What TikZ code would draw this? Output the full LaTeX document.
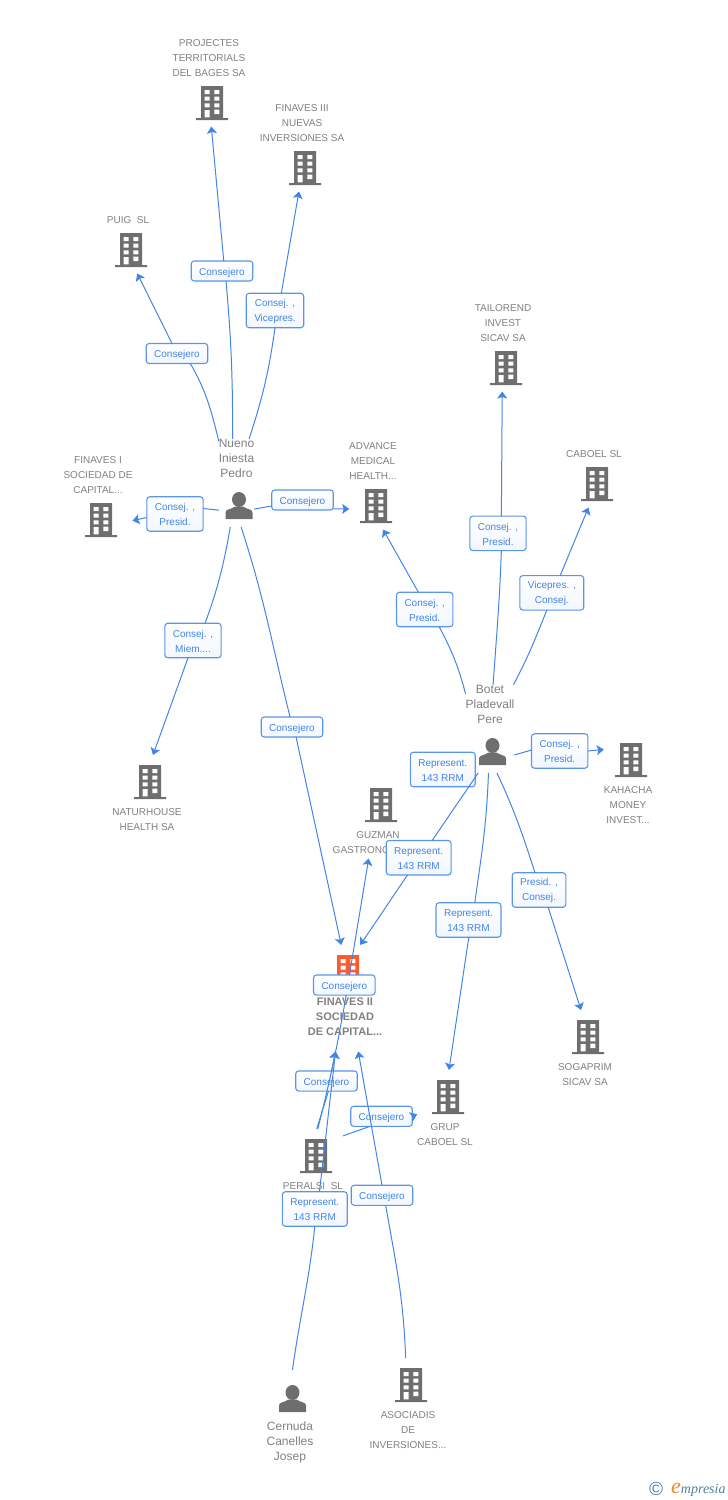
\documentclass[tikz,border=0pt]{standalone}
\usepackage{fontspec}
\setmainfont{Liberation Sans}
\newfontfamily\logofont{Liberation Serif}
\usetikzlibrary{arrows.meta,calc}

\definecolor{labelgray}{HTML}{808080}
\definecolor{icongray}{HTML}{6E6E6E}
\definecolor{iconorange}{HTML}{FF5A2C}
\definecolor{linkblue}{HTML}{4285E6}
\definecolor{boxblue}{HTML}{5A96E8}
\definecolor{logoblue}{HTML}{4F7F9C}
\definecolor{logoorange}{HTML}{F08A24}

\newcommand{\uproom}{\rule{0pt}{60.5pt}}
\newcommand{\dnroom}{\rule[-50pt]{0pt}{0pt}}
\newcommand{\boxroom}{\rule{0pt}{11pt}}
\newcommand{\boxroomb}{\rule{0pt}{9pt}}

\newcommand{\bldgicon}[2]{
  \begin{scope}[shift={($#1$)}]
    \fill[#2] (-11,-17) rectangle (11,15) (-16,15) rectangle (16,17);
    \foreach \wy in {-13,-6.4,0.3}
      \fill[white] (-7.3,\wy) rectangle +(5,4) (2.3,\wy) rectangle +(5,4);
    \fill[white] (-7.3,7) rectangle (-2.3,14.3) (2.3,6.7) rectangle (7.3,11);
  \end{scope}
}
\newcommand{\personicon}[1]{
  \begin{scope}[shift={($#1$)}]
    \fill[icongray] (0,-6) ellipse (7 and 7.5);
    \fill[icongray] (-13.5,13.5) -- (-13.5,7) .. controls (-13.5,3.5) and (-8,4) .. (-4,1)
      -- (4,1) .. controls (8,4) and (13.5,3.5) .. (13.5,7) -- (13.5,13.5) -- cycle;
  \end{scope}
}

\tikzset{
  entity/.style={inner sep=0pt,outer sep=0pt,align=center,text=labelgray,
    font=\fontsize{10}{15}\selectfont},
  bldgup/.style={entity,anchor=south},
  bldgdn/.style={entity,anchor=north},
  rootdn/.style={entity,anchor=north,font=\fontsize{11}{15}\selectfont\bfseries},
  personup/.style={entity,anchor=south,font=\fontsize{12}{15}\selectfont},
  persondn/.style={entity,anchor=north,font=\fontsize{12}{15}\selectfont},
  linkbox/.style={draw=boxblue,line width=1.1pt,rounded corners=3pt,top color=white,
    bottom color=boxblue!8,text=linkblue,align=center,inner xsep=8pt,inner ysep=3.5pt,
    outer sep=0pt,minimum height=20pt,font=\fontsize{10}{15}\selectfont},
  linkboxb/.style={linkbox,minimum height=34.5pt},
  link/.style={draw=linkblue,line width=1pt},
  linkto/.style={link,-{Stealth[length=7pt,width=10pt,inset=1.5pt]}}
}

\begin{document}
\begin{tikzpicture}[x=1pt,y=-1pt]
\useasboundingbox (0,0) rectangle (728,1500);

% companies
\node[bldgup] (projectes) at (209,126.5) {PROJECTES\\TERRITORIALS\\DEL BAGES SA\dnroom};
\node[bldgup] (finavesiii) at (302,191.5) {FINAVES III\\NUEVAS\\INVERSIONES SA\dnroom};
\node[bldgup] (puig) at (128,273.5) {PUIG\ \ SL\dnroom};
\node[bldgup] (tailorend) at (503,391.5) {TAILOREND\\INVEST\\SICAV SA\dnroom};
\node[bldgup] (caboel) at (594,507.5) {CABOEL SL\dnroom};
\node[bldgup] (advance) at (373,529.5) {ADVANCE\\MEDICAL\\HEALTH...\dnroom};
\node[bldgup] (finavesi) at (98,543.5) {FINAVES I\\SOCIEDAD DE\\CAPITAL...\dnroom};
\node[bldgdn] (naturhouse) at (147,755) {\uproom NATURHOUSE\\HEALTH SA};
\node[bldgdn] (guzman) at (378,778) {\uproom GUZMAN\\GASTRONOMICA...\rule[-5pt]{0pt}{0pt}};
\node[bldgdn] (kahacha) at (628,733) {\uproom KAHACHA\\MONEY\\INVEST...};
\node[bldgdn] (sogaprim) at (585,1010) {\uproom SOGAPRIM\\SICAV SA};
\node[bldgdn] (grup) at (445,1070) {\uproom GRUP\\CABOEL SL};
\node[bldgdn] (peralsi) at (313,1129) {\uproom PERALSI\ \ SL};
\node[bldgdn] (asociadis) at (408,1358) {\uproom ASOCIADIS\\DE\\INVERSIONES...};
\node[rootdn] (finavesii) at (345,945) {\uproom FINAVES II\\SOCIEDAD\\DE CAPITAL...\rule[-16pt]{0pt}{0pt}};

% people
\node[personup] (nueno) at (236.5,527) {Nueno\\Iniesta\\Pedro\dnroom};
\node[personup] (botet) at (490,773) {Botet\\Pladevall\\Pere\dnroom};
\node[persondn] (cernuda) at (290,1370) {\uproom Cernuda\\Canelles\\Josep};

% icons
\foreach \nm in {projectes,finavesiii,puig,tailorend,caboel,advance,finavesi}
  \bldgicon{(\nm.south)+(3,-23.5)}{icongray};
\foreach \nm in {naturhouse,guzman,kahacha,sogaprim,grup,peralsi,asociadis}
  \bldgicon{(\nm.north)+(3,27)}{icongray};
\bldgicon{(finavesii.north)+(3,27)}{iconorange};
\foreach \nm in {nueno,botet}
  \personicon{(\nm.south)+(2.5,-21.5)};
\personicon{(cernuda.north)+(2.5,28.5)};

\node[linkbox] (boxpuig) at (177,353.5) {\boxroom Consejero};
\draw[link] (nueno.113) to [out=104,in=-60] (boxpuig.-37);
\draw[linkto] (boxpuig) -- (puig.-72);

\node[linkbox] (boxprojectes) at (222,271) {\boxroom Consejero};
\draw[link] (nueno.95.5) to [out=90,in=-85] (boxprojectes.-68);
\draw[linkto] (boxprojectes.80) -- (projectes.-87.5);

\node[linkboxb] (boxfinavesiii) at (275,310.5) {\boxroomb Consej. ,\\Vicepres.};
\draw[link] (nueno.74) to [out=72,in=-98] (boxfinavesiii.-90);
\draw[linkto] (boxfinavesiii.70) -- (finavesiii.-94);

\node[linkboxb] (boxfinavesi) at (175,514) {\boxroomb Consej. ,\\Presid.};
\draw[link] (nueno.237) -- (boxfinavesi.11.5);
\draw[linkto] (boxfinavesi.187) -- (finavesi.-31);

\node[linkbox] (boxadvance) at (302.5,500) {\boxroom Consejero};
\draw[link] (nueno.-56) -- (boxadvance.191);
\draw[linkto] (boxadvance.-16.3) -- (advance.224.4);

\node[linkbox] (boxroota) at (292,727) {\boxroom Consejero};
\draw[link] (nueno.-84.5) to [out=-72,in=104] (boxroota.101);
\draw[linkto] (boxroota.-68) -- (finavesii.94.4);

\node[linkboxb] (boxnaturhouse) at (193,640.5) {\boxroomb Consej. ,\\Miem....};
\draw[link] (nueno.262) to [out=-100,in=70] (boxnaturhouse.55);
\draw[linkto] (boxnaturhouse.-106) -- (naturhouse.81);

\node[linkboxb] (boxtailorend) at (498,533.3) {\boxroomb Consej. ,\\Presid.};
\draw[link] (botet.86.7) to [out=86,in=-92] (boxtailorend.-79);
\draw[linkto] (boxtailorend.79) -- (tailorend.-91);

\node[linkboxb] (boxcaboel) at (551.8,592.8) {\boxroomb Vicepres. ,\\Consej.};
\draw[link] (botet.62) to [out=62,in=-112] (boxcaboel.-106);
\draw[linkto] (boxcaboel.64) -- (caboel.-101);

\node[linkboxb] (boxadvanceb) at (424.7,609.5) {\boxroomb Consej. ,\\Presid.};
\draw[link] (botet.125) to [out=105,in=-62] (boxadvanceb.-50);
\draw[linkto] (boxadvanceb.110) -- (advance.-77);

\node[linkboxb] (boxkahacha) at (559.7,751) {\boxroomb Consej. ,\\Presid.};
\draw[link] (botet.-47) -- (boxkahacha.178);
\draw[linkto] (boxkahacha.0) -- (kahacha.130.5);

\node[linkboxb] (boxbotet) at (442.8,769.5) {\boxroomb Represent.\\143 RRM};

\node[linkboxb] (boxrootb) at (418.7,857.7) {\boxroomb Represent.\\143 RRM};
\draw[link] (botet.-105.6) -- (boxrootb.52);
\draw[linkto] (boxrootb.-123) -- (finavesii.74);

\node[linkboxb] (boxgrup) at (468.5,920) {\boxroomb Represent.\\143 RRM};
\draw[link] (botet.-92.5) to [out=-92,in=82] (boxgrup.70);
\draw[linkto] (boxgrup.-89) -- (grup.84);

\node[linkboxb] (boxsogaprim) at (539,890) {\boxroomb Presid. ,\\Consej.};
\draw[link] (botet.-81) to [out=-65,in=108] (boxsogaprim.103);
\draw[linkto] (boxsogaprim.-62) -- (sogaprim.96);

\node[linkbox] (boxgrupb) at (381.5,1116.3) {\boxroom Consejero};
\draw[link] (peralsi.38) -- (boxgrupb.221);
\draw[linkto] (boxgrupb.0) -- (grup.193);

\node[linkbox] (boxrootc) at (326.5,1081) {\boxroom Consejero};
\draw[link] (peralsi.83) -- (boxrootc.-79);
\draw[linkto] (boxrootc.63) -- (finavesii.-100.8);

\node[linkboxb] (boxrootd) at (314.8,1209) {\boxroomb Represent.\\143 RRM};
\draw[link] (cernuda.87.5) to [out=82,in=-96] (boxrootd.-90);
\draw[linkto] (boxrootd.75) -- (finavesii.-100.8);

\node[linkbox] (boxguzman) at (344.3,985) {\boxroom Consejero};
\draw[link] (peralsi.81.5) to [out=76,in=-100] (boxguzman.-79);
\draw[linkto] (boxguzman.63) -- (guzman.-103);

\node[linkbox] (boxroote) at (382,1195.3) {\boxroom Consejero};
\draw[link] (asociadis.93.7) to [out=92,in=-80] (boxroote.-70);
\draw[linkto] (boxroote.90) -- (finavesii.-76.4);

\node[anchor=base west,text=logoblue,inner sep=0pt,font=\fontsize{19}{19}\selectfont] (logomark) at (649,1495) {©};
\node[anchor=base west,text=logoblue,inner sep=0pt,font=\logofont\itshape\fontsize{14}{14}\selectfont] (logoname) at (671,1493)
  {{\color{logoorange}\fontsize{22}{22}\selectfont e}mpresia};

\end{tikzpicture}
\end{document}
